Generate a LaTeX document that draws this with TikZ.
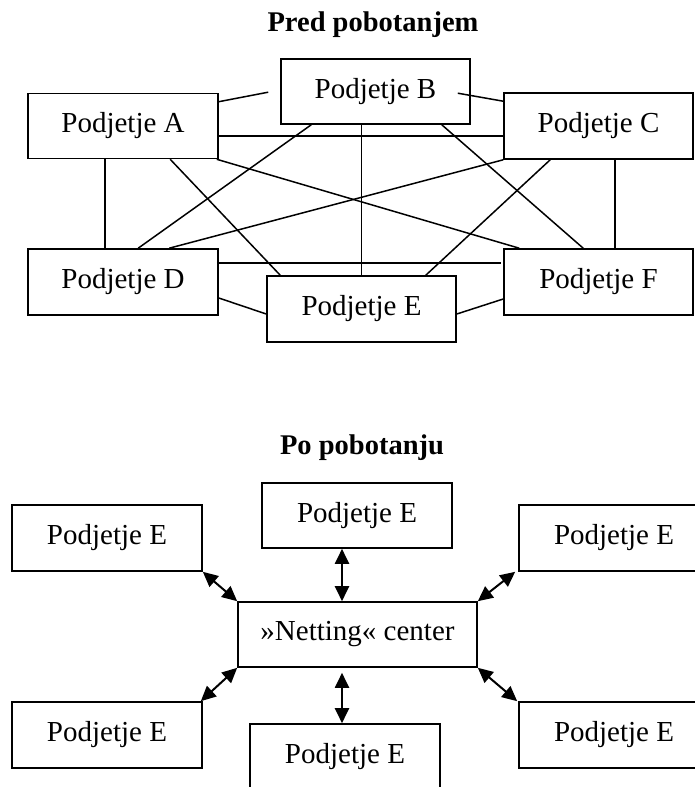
\documentclass[tikz,border=0pt]{standalone}
\usepackage{fontspec}
\setmainfont{Liberation Serif}
\usetikzlibrary{arrows.meta}
\begin{document}
\begin{tikzpicture}[x=1pt,y=-1pt,
  firm/.style={draw,line width=1.6pt,minimum width=190pt,minimum height=66pt,
    inner sep=0pt,font=\fontsize{29}{33}\selectfont},
  hub/.style={firm,minimum width=239pt,minimum height=65pt},
  heading/.style={anchor=base,font=\fontsize{28.5}{33}\selectfont\bfseries},
  link/.style={line width=1.5pt},
  flow/.style={line width=2pt,{Triangle[length=15pt,width=14pt]}-{Triangle[length=15pt,width=14pt]}}]
\useasboundingbox (0,0) rectangle (695,787);
\clip (0,0) rectangle (695,787);

% ---- before netting: every firm linked to every other ----
\node[heading] (t1) at (373,31) {Pred pobotanjem};
\node[firm,minimum height=65pt] (A) at (123,126) {Podjetje A};
\node[firm,minimum height=65pt,minimum width=189pt] (B) at (375.5,91.5) {Podjetje B};
\node[firm,minimum width=189pt] (C) at (598.5,126) {Podjetje C};
\node[firm] (D) at (123,282) {Podjetje D};
\node[firm,minimum width=189pt] (E) at (361.5,309) {Podjetje E};
\node[firm,minimum width=189pt] (F) at (598.5,282) {Podjetje F};

\draw[link] ([yshift=-9pt]A.north east) -- ([xshift=-12pt,yshift=-34pt]B.north west);
\draw[link] ([xshift=-13pt,yshift=-35pt]B.north east) -- ([yshift=-9pt]C.north west);
\draw[link] ([yshift=-10pt]A.east) -- ([yshift=-10pt]C.west);
\draw[link] ([xshift=31pt]B.south west) -- ([xshift=111pt]D.north west);
\draw[link] (E.north |- B.south) -- (E.north);
\draw[link] ([xshift=-29pt]B.south east) -- ([xshift=80pt]F.north west);
\draw[link] ([xshift=78pt]A.south west) -- ([xshift=78pt]D.north west);
\draw[link] ([xshift=143pt]A.south west) -- ([xshift=14pt]E.north west);
\draw[link] ([xshift=-2pt]A.south east) -- ([xshift=16pt]F.north west);
\draw[link] (C.south west) -- ([xshift=142pt]D.north west);
\draw[link] ([xshift=47pt]C.south west) -- ([xshift=-31pt]E.north east);
\draw[link] ([xshift=112pt]C.south west) -- ([xshift=112pt]F.north west);
\draw[link] ([xshift=-2pt,yshift=-15pt]D.north east) -- ([xshift=-2pt,yshift=-15pt]F.north west);
\draw[link] ([yshift=-16pt]D.east) -- ([yshift=-5pt]E.west);
\draw[link] ([yshift=-5pt]E.east) -- ([yshift=-17pt]F.west);

% ---- after netting: all flows pass through the centre ----
\node[heading] (t2) at (362,454) {Po pobotanju};
\node[hub] (N) at (357.5,634.5) {»Netting« center};
\node[firm,minimum height=65pt] (T) at (357,515.5) {Podjetje E};
\node[firm] (UL) at (107,538) {Podjetje E};
\node[firm] (UR) at (614,538) {Podjetje E};
\node[firm] (LL) at (107,735) {Podjetje E};
\node[firm] (LR) at (614,735) {Podjetje E};
\node[firm] (Bt) at (345,757) {Podjetje E};

\draw[flow] ([xshift=-15pt]T.south) -- ([xshift=-15.5pt]N.north);
\draw[flow] (UL.south east) -- (N.north west);
\draw[flow] ([xshift=-3pt]UR.south west) -- (N.north east);
\draw[flow] (N.south west) -- ([xshift=-2pt]LL.north east);
\draw[flow] (N.south east) -- ([xshift=-1pt]LR.north west);
\draw[flow] ([xshift=-15.5pt,yshift=-5pt]N.south) -- ([xshift=-3pt]Bt.north);
\end{tikzpicture}
\end{document}
